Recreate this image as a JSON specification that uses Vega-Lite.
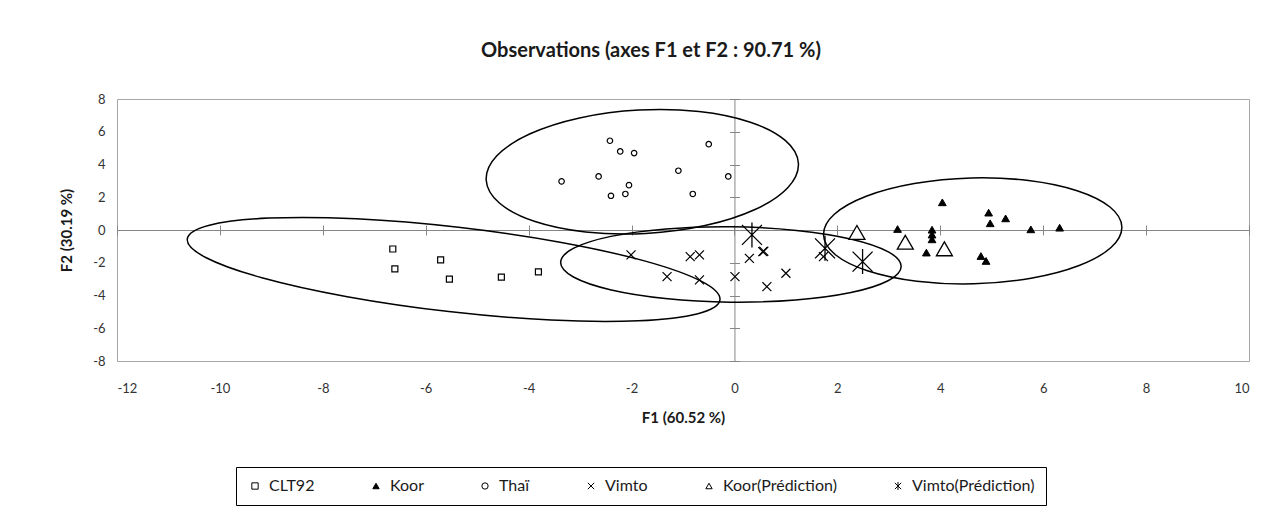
{
  "$schema": "https://vega.github.io/schema/vega-lite/v6.json",
  "width": 1132,
  "height": 262,
  "autosize": {"type": "none"},
  "padding": {"left": 117, "top": 99, "right": 30, "bottom": 162},
  "background": "white",
  "title": {"text": "Observations (axes F1 et F2 : 90.71 %)", "font": "Lato", "fontSize": 20, "fontWeight": "bold", "color": "#1a1a1a", "anchor": "middle", "frame": "group", "dx": -32, "offset": 32},
  "config": {
    "view": {"stroke": "#a6a6a6", "strokeWidth": 1},
    "axis": {"grid": false, "labelFont": "Lato", "titleFont": "Lato", "labelColor": "#333333", "titleColor": "#1a1a1a"},
    "legend": {"orient": "none", "legendX": 119, "legendY": 368, "direction": "horizontal", "labelFont": "Lato", "labelFontSize": 16, "labelColor": "#1a1a1a", "symbolSize": 40, "symbolStrokeWidth": 1, "strokeColor": "black", "padding": 11, "columnPadding": 53, "labelOffset": 6}
  },
  "resolve": {"axis": {"x": "independent", "y": "independent"}},
  "datasets": {
    "pts": [
      {"series": "CLT92", "x": -6.64, "y": -1.16},
      {"series": "CLT92", "x": -6.60, "y": -2.38},
      {"series": "CLT92", "x": -5.71, "y": -1.83},
      {"series": "CLT92", "x": -5.54, "y": -3.00},
      {"series": "CLT92", "x": -4.53, "y": -2.88},
      {"series": "CLT92", "x": -3.81, "y": -2.56},
      {"series": "Koor", "x": 4.04, "y": 1.69},
      {"series": "Koor", "x": 3.17, "y": 0.06},
      {"series": "Koor", "x": 3.84, "y": 0.02},
      {"series": "Koor", "x": 3.84, "y": -0.28},
      {"series": "Koor", "x": 3.84, "y": -0.57},
      {"series": "Koor", "x": 3.73, "y": -1.38},
      {"series": "Koor", "x": 4.94, "y": 1.06},
      {"series": "Koor", "x": 4.97, "y": 0.41},
      {"series": "Koor", "x": 5.27, "y": 0.71},
      {"series": "Koor", "x": 5.76, "y": 0.04},
      {"series": "Koor", "x": 6.32, "y": 0.14},
      {"series": "Koor", "x": 4.79, "y": -1.59},
      {"series": "Koor", "x": 4.89, "y": -1.89},
      {"series": "Thaï", "x": -2.42, "y": 5.45},
      {"series": "Thaï", "x": -2.22, "y": 4.80},
      {"series": "Thaï", "x": -1.95, "y": 4.70},
      {"series": "Thaï", "x": -0.50, "y": 5.24},
      {"series": "Thaï", "x": -3.36, "y": 2.97},
      {"series": "Thaï", "x": -2.64, "y": 3.27},
      {"series": "Thaï", "x": -2.05, "y": 2.74},
      {"series": "Thaï", "x": -2.40, "y": 2.09},
      {"series": "Thaï", "x": -2.12, "y": 2.20},
      {"series": "Thaï", "x": -1.09, "y": 3.62},
      {"series": "Thaï", "x": -0.81, "y": 2.20},
      {"series": "Thaï", "x": -0.12, "y": 3.27},
      {"series": "Vimto", "x": -2.01, "y": -1.52},
      {"series": "Vimto", "x": -1.31, "y": -2.85},
      {"series": "Vimto", "x": -0.86, "y": -1.63},
      {"series": "Vimto", "x": -0.68, "y": -1.52},
      {"series": "Vimto", "x": -0.68, "y": -3.05},
      {"series": "Vimto", "x": 0.01, "y": -2.85},
      {"series": "Vimto", "x": 0.29, "y": -1.73},
      {"series": "Vimto", "x": 0.55, "y": -1.32},
      {"series": "Vimto", "x": 0.57, "y": -1.30},
      {"series": "Vimto", "x": 0.63, "y": -3.46},
      {"series": "Vimto", "x": 1.00, "y": -2.64},
      {"series": "Vimto", "x": 1.73, "y": -1.63},
      {"series": "Koor(Prédiction)", "x": 2.38, "y": -0.15},
      {"series": "Koor(Prédiction)", "x": 3.32, "y": -0.75},
      {"series": "Koor(Prédiction)", "x": 4.08, "y": -1.15},
      {"series": "Vimto(Prédiction)", "x": 0.34, "y": -0.30},
      {"series": "Vimto(Prédiction)", "x": 1.76, "y": -1.12},
      {"series": "Vimto(Prédiction)", "x": 2.49, "y": -1.93}
    ],
    "ell": [
      {"g": "CLT92", "i": 0, "x": -0.282, "y": -4.268},
      {"g": "CLT92", "i": 1, "x": -0.711, "y": -5.110},
      {"g": "CLT92", "i": 2, "x": -1.864, "y": -5.543},
      {"g": "CLT92", "i": 3, "x": -3.565, "y": -5.500},
      {"g": "CLT92", "i": 4, "x": -5.551, "y": -4.982},
      {"g": "CLT92", "i": 5, "x": -7.526, "y": -4.073},
      {"g": "CLT92", "i": 6, "x": -9.184, "y": -2.915},
      {"g": "CLT92", "i": 7, "x": -10.276, "y": -1.677},
      {"g": "CLT92", "i": 8, "x": -10.634, "y": -0.549},
      {"g": "CLT92", "i": 9, "x": -10.204, "y": 0.293},
      {"g": "CLT92", "i": 10, "x": -9.051, "y": 0.726},
      {"g": "CLT92", "i": 11, "x": -7.351, "y": 0.683},
      {"g": "CLT92", "i": 12, "x": -5.364, "y": 0.165},
      {"g": "CLT92", "i": 13, "x": -3.390, "y": -0.744},
      {"g": "CLT92", "i": 14, "x": -1.732, "y": -1.902},
      {"g": "CLT92", "i": 15, "x": -0.639, "y": -3.140},
      {"g": "Vimto", "i": 0, "x": 3.240, "y": -2.226},
      {"g": "Vimto", "i": 1, "x": 2.985, "y": -3.098},
      {"g": "Vimto", "i": 2, "x": 2.264, "y": -3.817},
      {"g": "Vimto", "i": 3, "x": 1.189, "y": -4.274},
      {"g": "Vimto", "i": 4, "x": -0.078, "y": -4.405},
      {"g": "Vimto", "i": 5, "x": -1.343, "y": -4.183},
      {"g": "Vimto", "i": 6, "x": -2.414, "y": -3.646},
      {"g": "Vimto", "i": 7, "x": -3.129, "y": -2.872},
      {"g": "Vimto", "i": 8, "x": -3.378, "y": -1.982},
      {"g": "Vimto", "i": 9, "x": -3.123, "y": -1.110},
      {"g": "Vimto", "i": 10, "x": -2.402, "y": -0.390},
      {"g": "Vimto", "i": 11, "x": -1.328, "y": 0.067},
      {"g": "Vimto", "i": 12, "x": -0.060, "y": 0.198},
      {"g": "Vimto", "i": 13, "x": 1.205, "y": -0.024},
      {"g": "Vimto", "i": 14, "x": 2.276, "y": -0.561},
      {"g": "Vimto", "i": 15, "x": 2.991, "y": -1.335},
      {"g": "Koor", "i": 0, "x": 7.529, "y": 0.187},
      {"g": "Koor", "i": 1, "x": 7.318, "y": -1.068},
      {"g": "Koor", "i": 2, "x": 6.699, "y": -2.168},
      {"g": "Koor", "i": 3, "x": 5.764, "y": -2.945},
      {"g": "Koor", "i": 4, "x": 4.657, "y": -3.282},
      {"g": "Koor", "i": 5, "x": 3.545, "y": -3.128},
      {"g": "Koor", "i": 6, "x": 2.599, "y": -2.504},
      {"g": "Koor", "i": 7, "x": 1.962, "y": -1.509},
      {"g": "Koor", "i": 8, "x": 1.731, "y": -0.290},
      {"g": "Koor", "i": 9, "x": 1.941, "y": 0.965},
      {"g": "Koor", "i": 10, "x": 2.561, "y": 2.064},
      {"g": "Koor", "i": 11, "x": 3.495, "y": 2.841},
      {"g": "Koor", "i": 12, "x": 4.603, "y": 3.179},
      {"g": "Koor", "i": 13, "x": 5.714, "y": 3.024},
      {"g": "Koor", "i": 14, "x": 6.660, "y": 2.401},
      {"g": "Koor", "i": 15, "x": 7.298, "y": 1.405},
      {"g": "Thaï", "i": 0, "x": 1.243, "y": 4.067},
      {"g": "Thaï", "i": 1, "x": 1.036, "y": 2.586},
      {"g": "Thaï", "i": 2, "x": 0.399, "y": 1.252},
      {"g": "Thaï", "i": 3, "x": -0.571, "y": 0.270},
      {"g": "Thaï", "i": 4, "x": -1.727, "y": -0.211},
      {"g": "Thaï", "i": 5, "x": -2.893, "y": -0.119},
      {"g": "Thaï", "i": 6, "x": -3.891, "y": 0.533},
      {"g": "Thaï", "i": 7, "x": -4.569, "y": 1.646},
      {"g": "Thaï", "i": 8, "x": -4.825, "y": 3.049},
      {"g": "Thaï", "i": 9, "x": -4.618, "y": 4.530},
      {"g": "Thaï", "i": 10, "x": -3.982, "y": 5.863},
      {"g": "Thaï", "i": 11, "x": -3.011, "y": 6.846},
      {"g": "Thaï", "i": 12, "x": -1.855, "y": 7.327},
      {"g": "Thaï", "i": 13, "x": -0.689, "y": 7.235},
      {"g": "Thaï", "i": 14, "x": 0.309, "y": 6.583},
      {"g": "Thaï", "i": 15, "x": 0.987, "y": 5.470}
    ]
  },
  "layer": [
    {
      "data": {"name": "ell"},
      "mark": {"type": "line", "interpolate": "cardinal-closed", "color": "black", "strokeWidth": 1.5},
      "encoding": {
        "x": {"field": "x", "type": "quantitative", "scale": {"domain": [-12, 10], "nice": false, "zero": false},
              "axis": {"orient": "bottom", "values": [-12, -10, -8, -6, -4, -2, 0, 2, 4, 6, 8, 10], "labelExpr": "'' + datum.value", "domain": false, "ticks": false, "labelPadding": 21, "labelFontSize": 13, "title": "F1 (60.52 %)", "titleFontSize": 15, "titleFontWeight": "bold", "titlePadding": 15}},
        "y": {"field": "y", "type": "quantitative", "scale": {"domain": [-8, 8], "nice": false, "zero": false},
              "axis": {"orient": "left", "values": [-8, -6, -4, -2, 0, 2, 4, 6, 8], "labelExpr": "'' + datum.value", "domain": false, "ticks": false, "labelPadding": 12, "labelFontSize": 13, "title": "F2 (30.19 %)", "titleFontSize": 15, "titleFontWeight": "bold", "titlePadding": 18}},
        "detail": {"field": "g"},
        "order": {"field": "i"}
      }
    },
    {
      "data": {"name": "pts"},
      "transform": [{"filter": {"field": "series", "equal": "CLT92"}}],
      "mark": {"type": "point", "size": 36, "strokeWidth": 1.2, "opacity": 1},
      "encoding": {
        "x": {"field": "x", "type": "quantitative", "scale": {"domain": [-12, 10], "nice": false, "zero": false},
              "axis": {"orient": "top", "offset": -131, "values": [-12, -10, -8, -6, -4, -2, 0, 2, 4, 6, 8, 10], "labels": false, "title": null, "domain": true, "domainColor": "#868686", "ticks": true, "tickSize": 5, "tickColor": "#868686"}},
        "y": {"field": "y", "type": "quantitative", "scale": {"domain": [-8, 8], "nice": false, "zero": false},
              "axis": {"orient": "right", "offset": -514.55, "values": [-8, -6, -4, -2, 0, 2, 4, 6, 8], "labels": false, "title": null, "domain": true, "domainColor": "#868686", "ticks": true, "tickSize": 5, "tickColor": "#868686"}},
        "shape": {"field": "series", "type": "nominal", "scale": {"domain": ["CLT92", "Koor", "Thaï", "Vimto", "Koor(Prédiction)", "Vimto(Prédiction)"], "range": ["square", "triangle-up", "circle", "M-1,-1L1,1M-1,1L1,-1", "triangle-up", "M-1,-1L1,1M-1,1L1,-1M0,-1.25L0,1.25"]}, "legend": {"title": null, "encode": {"legend": {"update": {"strokeWidth": {"value": 2}}}}}},
        "fill": {"field": "series", "type": "nominal", "scale": {"domain": ["CLT92", "Koor", "Thaï", "Vimto", "Koor(Prédiction)", "Vimto(Prédiction)"], "range": ["white", "black", "white", "transparent", "white", "transparent"]}, "legend": {"title": null, "encode": {"legend": {"update": {"strokeWidth": {"value": 2}}}}}},
        "stroke": {"field": "series", "type": "nominal", "scale": {"domain": ["CLT92", "Koor", "Thaï", "Vimto", "Koor(Prédiction)", "Vimto(Prédiction)"], "range": ["black", "black", "black", "black", "black", "black"]}, "legend": {"title": null, "encode": {"legend": {"update": {"strokeWidth": {"value": 2}}}}}}
      }
    },
    {
      "data": {"name": "pts"},
      "transform": [{"filter": {"field": "series", "equal": "Koor"}}],
      "mark": {"type": "point", "size": 60, "strokeWidth": 1, "opacity": 1},
      "encoding": {
        "x": {"field": "x", "type": "quantitative", "scale": {"domain": [-12, 10], "nice": false, "zero": false},
              "axis": {"orient": "bottom", "offset": -131, "values": [-12, -10, -8, -6, -4, -2, 0, 2, 4, 6, 8, 10], "labels": false, "title": null, "domain": false, "ticks": true, "tickSize": 5, "tickColor": "#868686"}},
        "y": {"field": "y", "type": "quantitative", "scale": {"domain": [-8, 8], "nice": false, "zero": false},
              "axis": {"orient": "left", "offset": -617.45, "values": [-8, -6, -4, -2, 0, 2, 4, 6, 8], "labels": false, "title": null, "domain": false, "ticks": true, "tickSize": 5, "tickColor": "#868686"}},
        "shape": {"field": "series", "type": "nominal", "scale": {"domain": ["CLT92", "Koor", "Thaï", "Vimto", "Koor(Prédiction)", "Vimto(Prédiction)"], "range": ["square", "triangle-up", "circle", "M-1,-1L1,1M-1,1L1,-1", "triangle-up", "M-1,-1L1,1M-1,1L1,-1M0,-1.25L0,1.25"]}, "legend": {"title": null, "encode": {"legend": {"update": {"strokeWidth": {"value": 2}}}}}},
        "fill": {"field": "series", "type": "nominal", "scale": {"domain": ["CLT92", "Koor", "Thaï", "Vimto", "Koor(Prédiction)", "Vimto(Prédiction)"], "range": ["white", "black", "white", "transparent", "white", "transparent"]}, "legend": {"title": null, "encode": {"legend": {"update": {"strokeWidth": {"value": 2}}}}}},
        "stroke": {"field": "series", "type": "nominal", "scale": {"domain": ["CLT92", "Koor", "Thaï", "Vimto", "Koor(Prédiction)", "Vimto(Prédiction)"], "range": ["black", "black", "black", "black", "black", "black"]}, "legend": {"title": null, "encode": {"legend": {"update": {"strokeWidth": {"value": 2}}}}}}
      }
    },
    {
      "data": {"name": "pts"},
      "transform": [{"filter": {"field": "series", "equal": "Thaï"}}],
      "mark": {"type": "point", "size": 30, "strokeWidth": 1.2, "opacity": 1},
      "encoding": {
        "x": {"field": "x", "type": "quantitative", "scale": {"domain": [-12, 10], "nice": false, "zero": false}, "axis": null},
        "y": {"field": "y", "type": "quantitative", "scale": {"domain": [-8, 8], "nice": false, "zero": false}, "axis": null},
        "shape": {"field": "series", "type": "nominal", "scale": {"domain": ["CLT92", "Koor", "Thaï", "Vimto", "Koor(Prédiction)", "Vimto(Prédiction)"], "range": ["square", "triangle-up", "circle", "M-1,-1L1,1M-1,1L1,-1", "triangle-up", "M-1,-1L1,1M-1,1L1,-1M0,-1.25L0,1.25"]}, "legend": {"title": null, "encode": {"legend": {"update": {"strokeWidth": {"value": 2}}}}}},
        "fill": {"field": "series", "type": "nominal", "scale": {"domain": ["CLT92", "Koor", "Thaï", "Vimto", "Koor(Prédiction)", "Vimto(Prédiction)"], "range": ["white", "black", "white", "transparent", "white", "transparent"]}, "legend": {"title": null, "encode": {"legend": {"update": {"strokeWidth": {"value": 2}}}}}},
        "stroke": {"field": "series", "type": "nominal", "scale": {"domain": ["CLT92", "Koor", "Thaï", "Vimto", "Koor(Prédiction)", "Vimto(Prédiction)"], "range": ["black", "black", "black", "black", "black", "black"]}, "legend": {"title": null, "encode": {"legend": {"update": {"strokeWidth": {"value": 2}}}}}}
      }
    },
    {
      "data": {"name": "pts"},
      "transform": [{"filter": {"field": "series", "equal": "Vimto"}}],
      "mark": {"type": "point", "size": 81, "strokeWidth": 1.2, "opacity": 1},
      "encoding": {
        "x": {"field": "x", "type": "quantitative", "scale": {"domain": [-12, 10], "nice": false, "zero": false}, "axis": null},
        "y": {"field": "y", "type": "quantitative", "scale": {"domain": [-8, 8], "nice": false, "zero": false}, "axis": null},
        "shape": {"field": "series", "type": "nominal", "scale": {"domain": ["CLT92", "Koor", "Thaï", "Vimto", "Koor(Prédiction)", "Vimto(Prédiction)"], "range": ["square", "triangle-up", "circle", "M-1,-1L1,1M-1,1L1,-1", "triangle-up", "M-1,-1L1,1M-1,1L1,-1M0,-1.25L0,1.25"]}, "legend": {"title": null, "encode": {"legend": {"update": {"strokeWidth": {"value": 2}}}}}},
        "fill": {"field": "series", "type": "nominal", "scale": {"domain": ["CLT92", "Koor", "Thaï", "Vimto", "Koor(Prédiction)", "Vimto(Prédiction)"], "range": ["white", "black", "white", "transparent", "white", "transparent"]}, "legend": {"title": null, "encode": {"legend": {"update": {"strokeWidth": {"value": 2}}}}}},
        "stroke": {"field": "series", "type": "nominal", "scale": {"domain": ["CLT92", "Koor", "Thaï", "Vimto", "Koor(Prédiction)", "Vimto(Prédiction)"], "range": ["black", "black", "black", "black", "black", "black"]}, "legend": {"title": null, "encode": {"legend": {"update": {"strokeWidth": {"value": 2}}}}}}
      }
    },
    {
      "data": {"name": "pts"},
      "transform": [{"filter": {"field": "series", "equal": "Koor(Prédiction)"}}],
      "mark": {"type": "point", "size": 256, "strokeWidth": 1.3, "opacity": 1},
      "encoding": {
        "x": {"field": "x", "type": "quantitative", "scale": {"domain": [-12, 10], "nice": false, "zero": false}, "axis": null},
        "y": {"field": "y", "type": "quantitative", "scale": {"domain": [-8, 8], "nice": false, "zero": false}, "axis": null},
        "shape": {"field": "series", "type": "nominal", "scale": {"domain": ["CLT92", "Koor", "Thaï", "Vimto", "Koor(Prédiction)", "Vimto(Prédiction)"], "range": ["square", "triangle-up", "circle", "M-1,-1L1,1M-1,1L1,-1", "triangle-up", "M-1,-1L1,1M-1,1L1,-1M0,-1.25L0,1.25"]}, "legend": {"title": null, "encode": {"legend": {"update": {"strokeWidth": {"value": 2}}}}}},
        "fill": {"field": "series", "type": "nominal", "scale": {"domain": ["CLT92", "Koor", "Thaï", "Vimto", "Koor(Prédiction)", "Vimto(Prédiction)"], "range": ["white", "black", "white", "transparent", "white", "transparent"]}, "legend": {"title": null, "encode": {"legend": {"update": {"strokeWidth": {"value": 2}}}}}},
        "stroke": {"field": "series", "type": "nominal", "scale": {"domain": ["CLT92", "Koor", "Thaï", "Vimto", "Koor(Prédiction)", "Vimto(Prédiction)"], "range": ["black", "black", "black", "black", "black", "black"]}, "legend": {"title": null, "encode": {"legend": {"update": {"strokeWidth": {"value": 2}}}}}}
      }
    },
    {
      "data": {"name": "pts"},
      "transform": [{"filter": {"field": "series", "equal": "Vimto(Prédiction)"}}],
      "mark": {"type": "point", "size": 400, "strokeWidth": 1.3, "opacity": 1},
      "encoding": {
        "x": {"field": "x", "type": "quantitative", "scale": {"domain": [-12, 10], "nice": false, "zero": false}, "axis": null},
        "y": {"field": "y", "type": "quantitative", "scale": {"domain": [-8, 8], "nice": false, "zero": false}, "axis": null},
        "shape": {"field": "series", "type": "nominal", "scale": {"domain": ["CLT92", "Koor", "Thaï", "Vimto", "Koor(Prédiction)", "Vimto(Prédiction)"], "range": ["square", "triangle-up", "circle", "M-1,-1L1,1M-1,1L1,-1", "triangle-up", "M-1,-1L1,1M-1,1L1,-1M0,-1.25L0,1.25"]}, "legend": {"title": null, "encode": {"legend": {"update": {"strokeWidth": {"value": 2}}}}}},
        "fill": {"field": "series", "type": "nominal", "scale": {"domain": ["CLT92", "Koor", "Thaï", "Vimto", "Koor(Prédiction)", "Vimto(Prédiction)"], "range": ["white", "black", "white", "transparent", "white", "transparent"]}, "legend": {"title": null, "encode": {"legend": {"update": {"strokeWidth": {"value": 2}}}}}},
        "stroke": {"field": "series", "type": "nominal", "scale": {"domain": ["CLT92", "Koor", "Thaï", "Vimto", "Koor(Prédiction)", "Vimto(Prédiction)"], "range": ["black", "black", "black", "black", "black", "black"]}, "legend": {"title": null, "encode": {"legend": {"update": {"strokeWidth": {"value": 2}}}}}}
      }
    }
  ]
}
